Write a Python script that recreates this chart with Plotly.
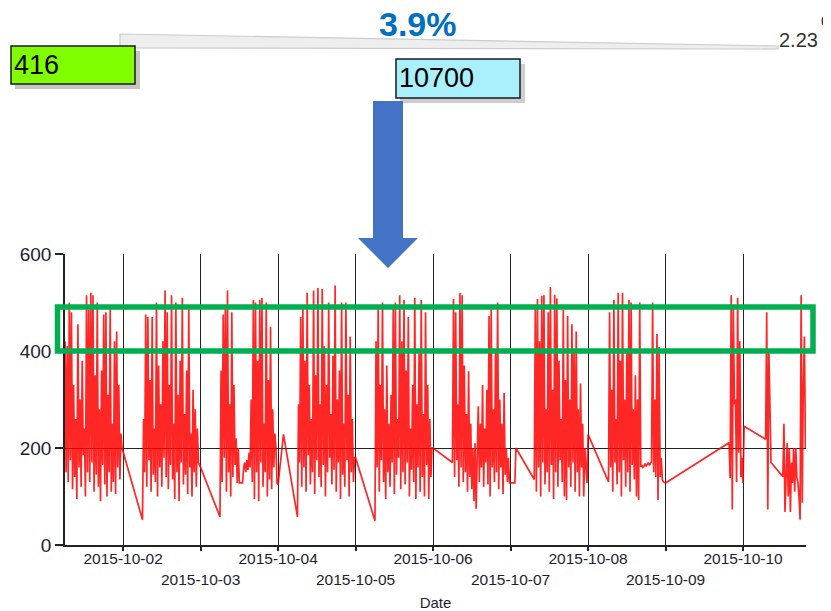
import plotly.graph_objects as go
import pandas as pd

N = None
# Sensor readings sampled every 20 minutes, one list per day (00:00 .. 23:40)
DAY_01 = [N] * 18 + [
    420, 150, 410, 130, 500, 175, 480, 115, 330, 140,
    260, 95, 455, 160, 300, 120, 380, 185, 240, 100,
    515, 150, 485, 130, 520, 170, 515, 110, 350, 145,
    500, 120, 280, 90, 360, 165, 475, 125, 480, 100,
    310, 150, 490, 110, 250, 130, 420, 105, 440, 160,
    330, 135, 230, 200]
DAY_02 = [N] * 18 + [
    52, 260, 150, 475, 120, 470, 175, 340, 110, 470,
    145, 240, 130, 500, 100, 370, 160, 290, 120, 420,
    180, 525, 140, 480, 115, 330, 165, 515, 135, 250,
    95, 500, 150, 310, 90, 380, 170, 510, 125, 270,
    145, 360, 105, 490, 160, 230, 100, 320, 150, 280,
    120, 240, 170, 165]
DAY_03 = [160] + [N] * 17 + [
    58, 360, 130, 475, 180, 490, 110, 525, 150, 290,
    100, 480, 140, 330, 165, 220, 128, 200, 128, 128,
    128, 128, 160, 170, 150, 175, 155, 190, 160, 300,
    130, 505, 95, 500, 150, 380, 90, 505, 170, 510,
    120, 250, 150, 500, 100, 340, 135, 450, 115, 280,
    160, 230, 200, 128]
DAY_04 = [125, N, N, N, N, 228] + [N] * 12 + [
    58, 290, 170, 470, 120, 490, 160, 380, 110, 520,
    185, 330, 125, 260, 150, 525, 105, 350, 175, 530,
    140, 290, 120, 528, 165, 410, 100, 330, 150, 500,
    180, 270, 125, 390, 155, 535, 110, 300, 170, 360,
    95, 500, 145, 250, 120, 500, 175, 310, 100, 430,
    150, 260, 130, 180]
DAY_05 = [180] + [N] * 17 + [
    50, 420, 160, 490, 110, 330, 175, 500, 130, 280,
    95, 370, 150, 250, 120, 310, 170, 490, 105, 500,
    145, 260, 180, 515, 115, 420, 150, 505, 125, 360,
    170, 470, 100, 240, 155, 330, 130, 510, 95, 290,
    160, 400, 110, 505, 140, 270, 100, 480, 165, 330,
    95, 260, 140, 200]
DAY_06 = [200] + [N] * 17 + [
    170, 507, 140, 480, 175, 290, 120, 520, 160, 515,
    130, 370, 150, 270, 110, 358, 140, 250, 115, 200,
    90, 210, 75, 160, 286, 130, 250, 160, 330, 120,
    240, 170, 320, 125, 472, 100, 486, 160, 280, 130,
    400, 150, 500, 115, 300, 160, 250, 105, 314, 145,
    200, 130, 180, 128]
DAY_07 = [128, 128, 128, 128, 128, 200] + [N] * 15 + [N] + [
    135, 490, 110, 507, 160, 420, 100, 514, 170, 515,
    125, 280, 150, 480, 110, 532, 165, 320, 95, 516,
    150, 508, 120, 380, 175, 260, 130, 485, 100, 340,
    93, 472, 160, 300, 120, 455, 170, 400, 110, 440,
    150, 280, 100, 333, 160, 250, 100, 200, 160, 128]
DAY_08 = [228, N, N] + [N] * 15 + [N] + [
    130, 480, 160, 320, 110, 505, 170, 260, 125, 520,
    150, 380, 100, 520, 175, 300, 120, 400, 150, 505,
    110, 500, 165, 280, 135, 350, 100, 300, 93, 500,
    161, 165, 160, 163, 168, 162, 166, 170, 164, 168, 172,
    500, 150, 300, 140, 435, 93, 408, 140, 180, 135,
    130, 128]
DAY_09 = [128, N, N] + [N] * 54 + [
    N, N, 211, 138, 515, 73, 493, 290, 300, 130, 510, 190,
    420, 140, 180]
DAY_10 = [128, 245, N] + [N] * 18 + [
    218, 480, 73, 400, 250, 170] + [N] * 9 + [
    N, 141, 250, 68, 170, 210, 100, 200, 68, 170, 128, 200,
    110, 200, 140, 128, 100, 52, 515, 87, 328, 430, 200, N] + [N] * 12

DAYS = [DAY_01, DAY_02, DAY_03, DAY_04, DAY_05,
        DAY_06, DAY_07, DAY_08, DAY_09, DAY_10]

values = [v for d in DAYS for v in d]
times = pd.date_range("2015-10-01 00:00", periods=len(values), freq="20min")

TICK_DATES = ["2015-10-02", "2015-10-03", "2015-10-04", "2015-10-05",
              "2015-10-06", "2015-10-07", "2015-10-08", "2015-10-09",
              "2015-10-10"]
Y_TICKS = [0, 200, 400, 600]

# Callout texts of the slide
KPI_PCT = "3.9%"
KPI_LEFT = "416"
KPI_MID = "10700"
KPI_RIGHT = "2.23"
KPI_CUT = "0"

# The page body has an 8px margin, so the figure is drawn 8px in from the corner.
OFF = 8
W, H = 831 - OFF, 611 - OFF
L, R, T, B = 65 - OFF, 25, 254 - OFF, 66
PW, PH = W - L - R, H - T - B


def fx(px):
    """page pixel x -> paper fraction"""
    return (px - OFF - L) / PW


def fy(py):
    """page pixel y -> paper fraction"""
    return (H - B - (py - OFF)) / PH


def path(points):
    return "M " + " L ".join(f"{fx(x):.5f},{fy(y):.5f}" for x, y in points) + " Z"


ticktext = [d if i % 2 == 0 else "<br>" + d for i, d in enumerate(TICK_DATES)]

fig = go.Figure()
fig.add_trace(go.Scatter(
    x=times, y=values, mode="lines", connectgaps=True,
    line=dict(color="rgba(255,0,0,0.85)", width=1.7),
    showlegend=False, hoverinfo="x+y",
))

font_family = "Liberation Sans, Arial, sans-serif"
axis_col = "#222222"
txt_col = "#1e1e30"

fig.update_layout(
    template="none",
    width=W, height=H,
    margin=dict(l=L, r=R, t=T, b=B, pad=0),
    paper_bgcolor="white", plot_bgcolor="white",
    font=dict(family=font_family, color=txt_col),
    xaxis=dict(
        type="date",
        range=["2015-10-01 06:00", "2015-10-10 19:30"],
        tickmode="array", tickvals=TICK_DATES, ticktext=ticktext,
        tickangle=0, ticklabelstandoff=-5,
        tickfont=dict(size=15.5, color=txt_col),
        showgrid=True, gridcolor=axis_col, gridwidth=1.3,
        showline=True, linecolor=axis_col, linewidth=1.5,
        ticks="outside", ticklen=4, tickcolor=axis_col, tickwidth=1.5,
        zeroline=False, automargin=False,
        title=dict(text="Date", font=dict(size=15, color=txt_col), standoff=11),
    ),
    yaxis=dict(
        range=[0, 600], tickmode="array", tickvals=Y_TICKS,
        tickfont=dict(size=19, color=txt_col),
        showgrid=True, gridcolor=axis_col, gridwidth=1.3,
        showline=True, linecolor=axis_col, linewidth=1.5,
        ticks="outside", ticklen=8, tickcolor=axis_col, tickwidth=1.5,
        zeroline=False, automargin=False,
    ),
)

shapes = []
# top wedge bar
shapes.append(dict(type="path", xref="paper", yref="paper",
                   path=path([(120, 34), (778, 46), (778, 49), (120, 48)]),
                   fillcolor="#eeeeee", line=dict(color="#cccccc", width=1.2)))
# shadows of boxes
shapes.append(dict(type="rect", xref="paper", yref="paper",
                   x0=fx(15), x1=fx(140), y0=fy(51), y1=fy(89),
                   fillcolor="rgba(90,90,90,0.35)", line=dict(width=0)))
shapes.append(dict(type="rect", xref="paper", yref="paper",
                   x0=fx(400), x1=fx(525), y0=fy(64), y1=fy(103),
                   fillcolor="rgba(90,90,90,0.3)", line=dict(width=0)))
# boxes
shapes.append(dict(type="rect", xref="paper", yref="paper",
                   x0=fx(11), x1=fx(135), y0=fy(46), y1=fy(84),
                   fillcolor="#80ff00", line=dict(color="#1a1a1a", width=1.5)))
shapes.append(dict(type="rect", xref="paper", yref="paper",
                   x0=fx(396), x1=fx(520), y0=fy(59), y1=fy(98),
                   fillcolor="#aaeffc", line=dict(color="#1a1a1a", width=1.5)))
# blue arrow
shapes.append(dict(type="path", xref="paper", yref="paper",
                   path=path([(373, 101), (403, 101), (403, 238), (418, 238),
                              (388, 268), (358, 238), (373, 238)]),
                   fillcolor="#4472c4", line=dict(width=0), layer="above"))
# green highlight rectangle
shapes.append(dict(type="rect", xref="paper", yref="paper",
                   x0=fx(57.5), x1=fx(813), y0=fy(307), y1=fy(351),
                   fillcolor="rgba(0,0,0,0)",
                   line=dict(color="#00b050", width=5.5), layer="above"))
fig.update_layout(shapes=shapes)

ann = [
    dict(text=f"<b>{KPI_PCT}</b>", x=fx(418), y=fy(24), xanchor="center",
         yanchor="middle", font=dict(size=34, color="#0070c0")),
    dict(text=KPI_LEFT, x=fx(12), y=fy(65), xanchor="left", yanchor="middle",
         font=dict(size=27, color="#000000")),
    dict(text=KPI_MID, x=fx(397), y=fy(78), xanchor="left", yanchor="middle",
         font=dict(size=27, color="#000000")),
    dict(text=KPI_RIGHT, x=fx(777), y=fy(40), xanchor="left", yanchor="middle",
         font=dict(size=20, color="#333333")),
    dict(text=KPI_CUT, x=fx(831), y=fy(20), xanchor="right", yanchor="middle",
         font=dict(size=15, color="#222222")),
]
for a in ann:
    a.update(xref="paper", yref="paper", showarrow=False)
fig.update_layout(annotations=ann)

fig.write_html("out.html")
